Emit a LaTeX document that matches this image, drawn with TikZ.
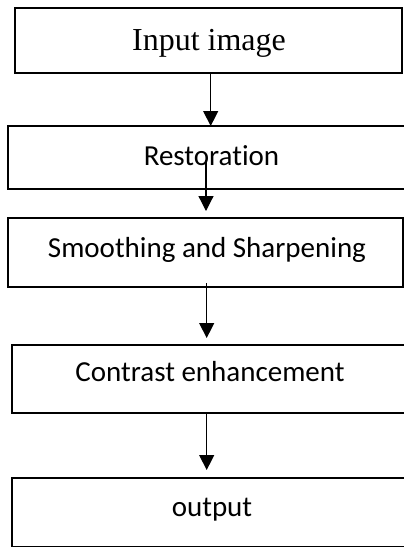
\documentclass[tikz,border=0pt]{standalone}
\usepackage{fontspec}
\setmainfont[Ligatures={NoCommon}]{Carlito}
\newfontfamily\timesfont{Liberation Serif}
\usetikzlibrary{arrows.meta}
\tikzset{
  boxnode/.style={draw=black, line width=2.2pt, rectangle, inner sep=0pt},
  lbl/.style={anchor=base, inner sep=0pt, font=\fontsize{29}{34}\selectfont},
  conn/.style={draw=black, line width=1.2pt, -{Triangle[length=15pt,width=15pt]}}
}
\begin{document}
\begin{tikzpicture}[x=1pt,y=-1pt]
\useasboundingbox (0,0) rectangle (404,547);
\begin{scope}
\clip (0,0) rectangle (404,547);
\node[boxnode, minimum width=387pt, minimum height=65pt] (b1) at (208.5,40.5) {};
\node[boxnode, minimum width=412pt, minimum height=63.6pt] (b2) at (214,157.5) {};
\node[boxnode, minimum width=395pt, minimum height=69pt] (b3) at (205.5,252.5) {};
\node[boxnode, minimum width=410pt, minimum height=67.7pt] (b4) at (217,378.9) {};
\node[boxnode, minimum width=410pt, minimum height=69pt] (b5) at (217,512.5) {};
\end{scope}
\node[lbl, font=\timesfont\fontsize{32}{38}\selectfont] (t1) at (209,50) {Input image};
\node[lbl] (t2) at (211.5,165) {Restoration};
\node[lbl] (t3) at (207,257.5) {Smoothing and Sharpening};
\node[lbl] (t4) at (210,381.7) {Contrast enhancement};
\node[lbl] (t5) at (212,516.7) {output};
\coordinate (s1) at (210.7,73);
\coordinate (e1) at (210.7,126);
\coordinate (s2) at (206,160);
\coordinate (e2) at (206,211);
\coordinate (s3) at (206.7,283);
\coordinate (e3) at (206.7,338);
\coordinate (s4) at (206.7,412.7);
\coordinate (e4) at (206.7,470);
\draw[conn] (s1) -- (e1);
\draw[conn] (s2) -- (e2);
\draw[conn] (s3) -- (e3);
\draw[conn] (s4) -- (e4);
\end{tikzpicture}
\end{document}
